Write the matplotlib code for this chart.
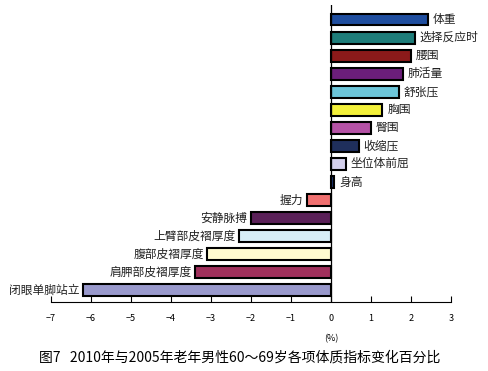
import numpy as np
import matplotlib
matplotlib.use('Agg')
import matplotlib.pyplot as plt

plt.rcParams['font.family'] = ['Noto Sans CJK SC', 'DejaVu Sans']

# Data (top to bottom)
labels = ['体重', '选择反应时', '腰围', '肺活量', '舒张压', '胸围', '臀围', '收缩压',
          '坐位体前屈', '身高', '握力', '安静脉搏', '上臂部皮褶厚度', '腹部皮褶厚度',
          '肩胛部皮褶厚度', '闭眼单脚站立']
values = [2.42, 2.1, 2.0, 1.8, 1.7, 1.29, 1.0, 0.7, 0.37, 0.09,
          -0.6, -2.0, -2.3, -3.1, -3.4, -6.2]
colors = ['#1F4E9F', '#1E7D7A', '#8B1A1A', '#6B1E7A', '#6CC5D9', '#F3F03A', '#B552A6', '#1F2F5C',
          '#D4D0EC', '#1F3A7A', '#F07070', '#5A2058', '#D7EEF7', '#FFFBD0', '#A0305C', '#9999CC']
xticks = [-7, -6, -5, -4, -3, -2, -1, 0, 1, 2, 3]

fig = plt.figure(figsize=(4.89, 3.71), dpi=100)
ax = fig.add_axes([0.104, 0.186, 0.818, 0.80])

y = np.arange(len(labels))[::-1]
ax.barh(y, values, height=0.65, color=colors, edgecolor='black', linewidth=1.5)

for yi, v, lab in zip(y, values, labels):
    if v >= 0:
        ax.text(v + 0.12, yi, lab, ha='left', va='center', fontsize=8.5, color='#222222')
    else:
        ax.text(v - 0.08, yi, lab, ha='right', va='center', fontsize=8.5, color='#222222')

ax.set_xlim(-7, 3)
ax.set_ylim(-0.65, len(labels) - 0.2)
ax.set_xticks(xticks)
ax.set_xticklabels([str(t).replace('-', '−') for t in xticks], fontsize=6.5)
ax.tick_params(axis='x', direction='in', length=4, width=0.8, pad=9)
ax.set_yticks([])
for s in ['top', 'right', 'left']:
    ax.spines[s].set_visible(False)
ax.spines['bottom'].set_linewidth(0.8)
ax.axvline(0, color='black', linewidth=0.9)

fig.text(0.677, 0.088, '(%)', ha='center', va='center', fontsize=6.5)
fig.text(0.49, 0.035, '图7   2010年与2005年老年男性60～69岁各项体质指标变化百分比',
         ha='center', va='center', fontsize=10)

plt.savefig('out.png', dpi=100)
